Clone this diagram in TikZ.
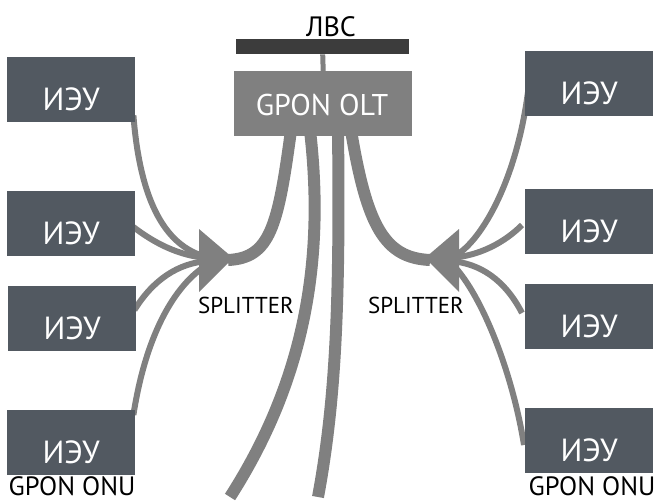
\documentclass[tikz,border=0pt]{standalone}
\usepackage{fontspec}
\setmainfont{PT Sans}
\usetikzlibrary{calc}
\definecolor{boxc}{HTML}{525961}
\definecolor{cab}{HTML}{808080}
\definecolor{barc}{HTML}{3C3C3C}
\begin{document}
\begin{tikzpicture}[x=1pt,y=-1pt,
  ieu/.style={fill=boxc, minimum width=128pt, minimum height=65pt, inner sep=0pt, anchor=north west},
  ieutxt/.style={text=white, font=\fontsize{32}{32}\selectfont, anchor=base, inner sep=0pt},
  thincab/.style={draw=cab, line width=6pt},
  thickcab/.style={draw=cab, line width=12pt},
  lbl/.style={text=black, anchor=base, inner sep=0pt},
  split/.style={fill=cab}]
\useasboundingbox (0,0) rectangle (658,501);

% splitter tips
\coordinate (SL) at (233,258);
\coordinate (SR) at (425,258);
\coordinate (BL) at (230,497);
\coordinate (BR) at (318,497);

% boxes (positions)
\node[ieu] (L1) at (7,57) {};
\node[ieu] (L2) at (7,191) {};
\node[ieu] (L3) at (8,286) {};
\node[ieu] (L4) at (7,410) {};
\node[ieu] (R1) at (525,51) {};
\node[ieu] (R2) at (525,189) {};
\node[ieu] (R3) at (525,284) {};
\node[ieu] (R4) at (525,408) {};

\node[fill=cab, minimum width=178pt, minimum height=65pt, inner sep=0pt, anchor=north west] (OLT) at (234,71) {};
\node[fill=barc, minimum width=173pt, minimum height=15pt, inner sep=0pt, anchor=north west] (BAR) at (236,39) {};

% thick cables from OLT
\draw[thickcab] ($(OLT.south west)+(57,-6)$) .. controls (278,227) and (270,258) .. ($(SL)+(-5,2)$);
\draw[thickcab] ($(OLT.south west)+(76,-6)$) .. controls (325,260) and (305,380) .. (BL);
\draw[thickcab] ($(OLT.south west)+(104,-6)$) .. controls (340,300) and (336,400) .. (BR);
\draw[thickcab] ($(OLT.south west)+(117,-6)$) .. controls (367,227) and (385,258) .. ($(SR)+(5,2)$);

% thin cables left
\draw[thincab] ($(L1.south east)+(-2,-7)$) .. controls (140,200) and (165,250) .. ($(SL)+(-21,0)$);
\draw[thincab] ($(L2.north east)+(-2,36)$) .. controls (153,242) and (178,256) .. ($(SL)+(-25,0)$);
\draw[thincab] ($(L3.north east)+(-2,24)$) .. controls (153,280) and (178,263) .. ($(SL)+(-25,3)$);
\draw[thincab] ($(L4.north east)+(-2,5)$) .. controls (145,340) and (172,285) .. ($(SL)+(-23,5)$);

% thin cables right
\draw[thincab] ($(R1.north west)+(3,41)$) .. controls (515,190) and (475,250) .. ($(SR)+(25,0)$);
\draw[thincab] ($(R2.north west)+(-3,36)$) .. controls (505,242) and (480,256) .. ($(SR)+(25,0)$);
\draw[thincab] ($(R3.north west)+(-3,29)$) .. controls (505,280) and (480,263) .. ($(SR)+(25,3)$);
\draw[thincab] ($(R4.north west)+(-1,37)$) .. controls (512,370) and (480,290) .. ($(SR)+(25,4)$);

% redraw boxes on top
\foreach \b in {L1,L2,L3,L4,R1,R2,R3,R4}{
  \fill[boxc] (\b.north west) rectangle (\b.south east);
}
\fill[cab] (OLT.north west) rectangle (OLT.south east);
\fill[barc] (BAR.north west) rectangle (BAR.south east);
\draw[cab, line width=5pt] (BAR.south) -- (OLT.north);

% splitters
\fill[split] (SL) -- (199,229) -- (199,292) -- cycle;
\fill[split] (SR) -- (459,229) -- (459,292) -- cycle;

% texts
\foreach \b in {L1,L2,L3,L4,R1,R2,R3,R4}{
  \node[ieutxt] (\b t) at ($(\b.center)+(0,21)$) {ИЭУ};
}
\node[text=white, font=\fontsize{30}{30}\selectfont, anchor=base, inner sep=0pt] (OLTt) at (322,115) {GPON OLT};
\node[lbl, font=\fontsize{28}{28}\selectfont] (LVS) at (331,36) {ЛВС};
\node[lbl, font=\fontsize{23}{23}\selectfont] (SPLt) at (246,313) {SPLITTER};
\node[lbl, font=\fontsize{23}{23}\selectfont] (SPRt) at (416,313) {SPLITTER};
\node[lbl, font=\fontsize{26.5}{27}\selectfont] (ONUl) at (72,495) {GPON ONU};
\node[lbl, font=\fontsize{26.5}{27}\selectfont] (ONUr) at (592,495) {GPON ONU};
\end{tikzpicture}
\end{document}
